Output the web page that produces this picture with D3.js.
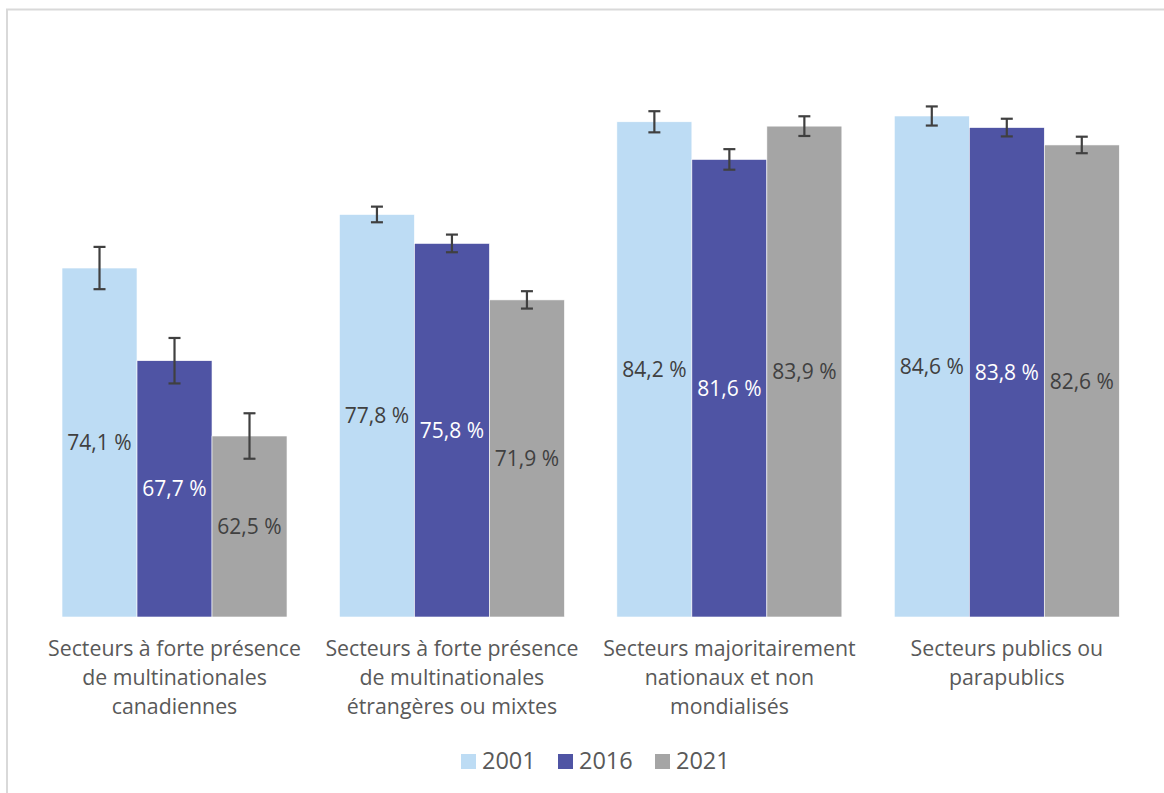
<!DOCTYPE html>
<html>
<head>
<meta charset="utf-8">
<script src="https://cdn.jsdelivr.net/npm/d3@7"></script>
<style>
  html, body { margin: 0; padding: 0; background: #fff; }
  svg { display: block; }
  text { font-family: "Open Sans", sans-serif; }
</style>
</head>
<body>
<svg id="chart" width="1164" height="793"></svg>
<script>
const categories = [
  ["Secteurs à forte présence", "de multinationales", "canadiennes"],
  ["Secteurs à forte présence", "de multinationales", "étrangères ou mixtes"],
  ["Secteurs majoritairement", "nationaux et non", "mondialisés"],
  ["Secteurs publics ou", "parapublics"]
];
const years = ["2001", "2016", "2021"];
const values2001 = [74.1, 77.8, 84.2, 84.6];
const values2016 = [67.7, 75.8, 81.6, 83.8];
const values2021 = [62.5, 71.9, 83.9, 82.6];
const errors2001 = [1.46, 0.54, 0.73, 0.66];
const errors2016 = [1.57, 0.61, 0.71, 0.61];
const errors2021 = [1.57, 0.60, 0.68, 0.57];
const colors = ["#BDDCF4", "#4F54A4", "#A5A5A5"];
const labelColors = ["#404040", "#FFFFFF", "#404040"];

const seriesValues = [values2001, values2016, values2021];
const seriesErrors = [errors2001, errors2016, errors2021];

const svg = d3.select("#chart");

// outer border
svg.append("rect")
  .attr("x", 7).attr("y", 9.5)
  .attr("width", 1200).attr("height", 900)
  .attr("fill", "none")
  .attr("stroke", "#D9D9D9")
  .attr("stroke-width", 2);

const x0 = d3.scaleBand()
  .domain(d3.range(categories.length))
  .range([35.8, 1145.5])
  .paddingInner(0.189)
  .paddingOuter(0.0945);

const x1 = d3.scaleBand()
  .domain(d3.range(years.length))
  .range([0, x0.bandwidth()]);

const y = d3.scaleLinear().domain([50, 90]).range([617, 617 - 40 * 14.48]);

const data = [];
categories.forEach((c, i) => {
  years.forEach((yr, j) => {
    data.push({ ci: i, si: j, v: seriesValues[j][i], e: seriesErrors[j][i] });
  });
});

const g = svg.append("g");

g.selectAll("rect.bar").data(data).enter().append("rect")
  .attr("class", "bar")
  .attr("x", d => x0(d.ci) + x1(d.si))
  .attr("y", d => y(d.v))
  .attr("width", x1.bandwidth())
  .attr("height", d => y(50) - y(d.v))
  .attr("fill", d => colors[d.si])
  .attr("stroke", "#FFFFFF")
  .attr("stroke-width", 0.6);

// value labels
g.selectAll("text.val").data(data).enter().append("text")
  .attr("class", "val")
  .attr("x", d => x0(d.ci) + x1(d.si) + x1.bandwidth() / 2)
  .attr("y", d => (y(d.v) + y(50)) / 2)
  .attr("dy", "0.36em")
  .attr("text-anchor", "middle")
  .attr("font-size", 21)
  .attr("fill", d => labelColors[d.si])
  .text(d => d.v.toFixed(1).replace(".", ",") + " %");

// error bars
const eb = g.selectAll("g.err").data(data).enter().append("g").attr("class", "err");
const cx = d => x0(d.ci) + x1(d.si) + x1.bandwidth() / 2;
eb.append("line")
  .attr("x1", cx).attr("x2", cx)
  .attr("y1", d => y(d.v + d.e)).attr("y2", d => y(d.v - d.e))
  .attr("stroke", "#404040").attr("stroke-width", 2.2);
eb.append("line")
  .attr("x1", d => cx(d) - 6).attr("x2", d => cx(d) + 6)
  .attr("y1", d => y(d.v + d.e)).attr("y2", d => y(d.v + d.e))
  .attr("stroke", "#404040").attr("stroke-width", 2.2);
eb.append("line")
  .attr("x1", d => cx(d) - 6).attr("x2", d => cx(d) + 6)
  .attr("y1", d => y(d.v - d.e)).attr("y2", d => y(d.v - d.e))
  .attr("stroke", "#404040").attr("stroke-width", 2.2);

// category labels
const cl = svg.selectAll("text.cat").data(categories).enter().append("text")
  .attr("class", "cat")
  .attr("text-anchor", "middle")
  .attr("font-size", 21.3)
  .attr("fill", "#595959")
  .attr("x", (d, i) => x0(i) + x0.bandwidth() / 2)
  .attr("y", 655.5);
cl.selectAll("tspan").data(d => d).enter().append("tspan")
  .attr("x", function () { return d3.select(this.parentNode).attr("x"); })
  .attr("dy", (d, i) => i === 0 ? 0 : 29.3)
  .text(d => d);

// legend
const legendX = [461, 558, 655];
const lg = svg.selectAll("g.leg").data(years).enter().append("g").attr("class", "leg")
  .attr("transform", (d, i) => `translate(${legendX[i]},0)`);
lg.append("rect").attr("x", 0).attr("y", 754).attr("width", 15).attr("height", 15)
  .attr("fill", (d, i) => colors[i]);
lg.append("text").attr("x", 21).attr("y", 768.5)
  .attr("font-size", 23.5).attr("fill", "#595959")
  .text(d => d);
</script>
</body>
</html>
